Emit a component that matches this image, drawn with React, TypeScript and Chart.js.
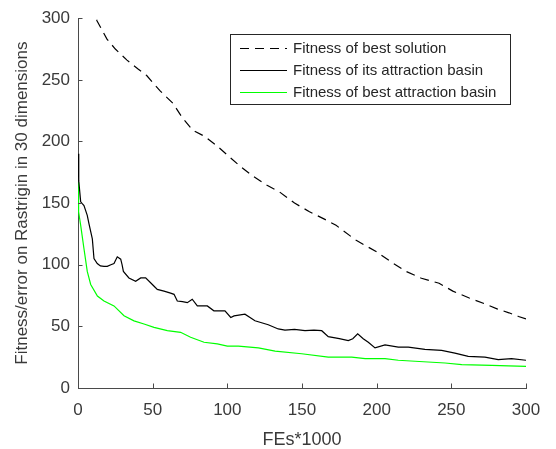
import React, { useEffect, useRef } from "react";
import { Chart, registerables } from "chart.js";

Chart.register(...registerables);

// ---- Data (FEs*1000 vs fitness) ----
const bestSolutionX = [0, 5, 10, 12.7, 19.4, 25, 32.8, 40, 46, 55, 63.6, 70, 77, 85, 93, 100, 108.5, 117, 126.6, 135, 145, 155, 165, 172.8, 186, 199.6, 210, 219.6, 230, 241.8, 251, 262, 273, 281, 288.6, 295, 300];
const bestSolutionY = [345, 325, 308, 298, 283, 275, 266, 259, 253.5, 241, 231, 219, 209, 204, 196.5, 189, 180, 172, 164.4, 159, 150, 143, 137, 132, 120, 110.7, 102, 94.6, 89, 85, 78.6, 73, 68, 64, 61, 58, 56];

const itsBasinX = [0, 0.5, 1.8, 4, 6.2, 7.4, 9.6, 10.7, 12.9, 15, 17.4, 19.6, 22, 24.1, 26.3, 28.6, 29.5, 30.4, 34.1, 38.6, 42, 45.3, 49.8, 53.1, 57.6, 62, 64.3, 66.5, 70, 73.2, 76.5, 79.9, 86.6, 91, 96.6, 98.4, 102.3, 104.5, 111.8, 118.5, 127.4, 134.1, 138.6, 145, 152, 158, 163.2, 167.6, 175, 181, 184, 187.3, 191, 194.4, 198.9, 205.6, 214.5, 221.2, 232.3, 243.5, 252.4, 261.3, 272.5, 281.4, 290.3, 300];
const itsBasinY = [190, 168, 151, 148, 140, 133, 121, 105, 101, 99, 98.7, 98.7, 100, 101, 106.4, 104.5, 100, 94.6, 89.3, 86.6, 89.3, 89.3, 84, 80, 78.6, 77, 76, 70.6, 70, 69.2, 72, 66.6, 66.6, 62.6, 62.6, 62.6, 57.2, 58.5, 59.9, 54.5, 51.3, 47.9, 47, 47.5, 46.5, 47, 46.5, 41.7, 40, 38.5, 40, 43.9, 40, 37.1, 32.5, 35, 33.1, 33.1, 31.3, 30.5, 28.3, 25.7, 25.1, 23, 23.8, 22.5];

const bestBasinX = [0, 0.4, 1.8, 4, 6.2, 8.5, 13, 17.4, 24.1, 30.8, 37.5, 44.2, 50.9, 59.8, 68.7, 75.4, 84.4, 93.3, 100, 107.4, 120.8, 132, 149.8, 167.6, 183.3, 192.3, 205.6, 214.5, 225.7, 245.8, 257, 277.1, 288.3, 300];
const bestBasinY = [167, 143, 132, 113, 94.6, 84, 74.6, 70.6, 66.6, 58.6, 54.5, 51.9, 49.2, 46.5, 45.2, 41.2, 37.1, 35.8, 34, 34, 32.6, 29.9, 27.8, 25.1, 25.1, 23.8, 23.8, 22.5, 21.7, 20.3, 19, 18.4, 17.9, 17.6];

const seriesLabels = [
  "Fitness of best solution",
  "Fitness of its attraction basin",
  "Fitness of best attraction basin",
];
const xTicks = [0, 50, 100, 150, 200, 250, 300];
const yTicks = [0, 50, 100, 150, 200, 250, 300];
const xTitle = "FEs*1000";
const yTitle = "Fitness/error on Rastrigin in 30 dimensions";

const FONT = "'Liberation Sans', Arial, Helvetica, sans-serif";
const AXIS_COLOR = "#4a4a4a";
const TEXT_COLOR = "#3a3a3a";

const toPoints = (xs: number[], ys: number[]) => xs.map((x, i) => ({ x, y: ys[i] }));

// Ticks drawn inward (MATLAB style)
const innerTicks = {
  id: "innerTicks",
  afterDatasetsDraw(chart: any) {
    const { ctx, chartArea, scales } = chart;
    const len = 4.5;
    ctx.save();
    ctx.strokeStyle = AXIS_COLOR;
    ctx.lineWidth = 1;
    ctx.beginPath();
    xTicks.forEach((v) => {
      const px = Math.round(scales.x.getPixelForValue(v)) + 0.5;
      ctx.moveTo(px, chartArea.bottom);
      ctx.lineTo(px, chartArea.bottom - len);
    });
    yTicks.forEach((v) => {
      const py = Math.round(scales.y.getPixelForValue(v)) + 0.5;
      ctx.moveTo(chartArea.left, py);
      ctx.lineTo(chartArea.left + len, py);
    });
    ctx.stroke();
    ctx.restore();
  },
};

// Boxed legend inside the plot, top-right
const boxLegend = {
  id: "boxLegend",
  afterDraw(chart: any) {
    const { ctx, chartArea } = chart;
    const w = 280;
    const h = 70;
    const left = Math.round(chartArea.right - 296);
    const top = Math.round(chartArea.top + 16);
    ctx.save();
    ctx.fillStyle = "#ffffff";
    ctx.fillRect(left, top, w, h);
    ctx.strokeStyle = "#262626";
    ctx.lineWidth = 1;
    ctx.strokeRect(left + 0.5, top + 0.5, w, h);
    ctx.font = `15px ${FONT}`;
    ctx.textBaseline = "middle";
    ctx.textAlign = "left";
    chart.data.datasets.forEach((ds: any, i: number) => {
      const y = top + 14 + i * 22 + 0.5;
      ctx.beginPath();
      ctx.strokeStyle = ds.borderColor;
      ctx.lineWidth = 1.2;
      ctx.setLineDash(ds.borderDash || []);
      ctx.moveTo(left + 10, y);
      ctx.lineTo(left + 57, y);
      ctx.stroke();
      ctx.setLineDash([]);
      ctx.fillStyle = "#262626";
      ctx.fillText(ds.label, left + 63, y);
    });
    ctx.restore();
  },
};

export default function App() {
  const canvasRef = useRef<HTMLCanvasElement | null>(null);

  useEffect(() => {
    document.body.style.margin = "0";
    const canvas = canvasRef.current;
    if (!canvas) return;
    const chart = new Chart(canvas, {
      type: "line",
      data: {
        datasets: [
          {
            label: seriesLabels[0],
            data: toPoints(bestSolutionX, bestSolutionY),
            borderColor: "#000000",
            borderWidth: 1.2,
            borderDash: [9, 6],
            pointRadius: 0,
            tension: 0,
            fill: false,
          },
          {
            label: seriesLabels[1],
            data: toPoints(itsBasinX, itsBasinY),
            borderColor: "#000000",
            borderWidth: 1.2,
            pointRadius: 0,
            tension: 0,
            fill: false,
          },
          {
            label: seriesLabels[2],
            data: toPoints(bestBasinX, bestBasinY),
            borderColor: "#00ff00",
            borderWidth: 1.2,
            pointRadius: 0,
            tension: 0,
            fill: false,
          },
        ],
      },
      options: {
        responsive: false,
        animation: false,
        layout: { padding: { top: 14, right: 30, bottom: 0, left: 0 } },
        plugins: {
          legend: { display: false },
          tooltip: { enabled: false },
        },
        scales: {
          x: {
            type: "linear",
            min: 0,
            max: 300,
            afterBuildTicks: (scale: any) => {
              scale.ticks = xTicks.map((v) => ({ value: v }));
            },
            afterFit: (scale: any) => {
              scale.height = 61;
            },
            grid: { display: false, drawTicks: false },
            border: { display: true, color: AXIS_COLOR, width: 1 },
            ticks: {
              color: TEXT_COLOR,
              font: { family: FONT, size: 17 },
              padding: 12,
              maxRotation: 0,
              autoSkip: false,
            },
            title: {
              display: true,
              text: xTitle,
              color: TEXT_COLOR,
              font: { family: FONT, size: 18, lineHeight: 1 },
              padding: { top: 0, bottom: 0 },
            },
          },
          y: {
            type: "linear",
            min: 0,
            max: 300,
            afterBuildTicks: (scale: any) => {
              scale.ticks = yTicks.map((v) => ({ value: v }));
            },
            afterFit: (scale: any) => {
              scale.width = 78;
            },
            grid: { display: false, drawTicks: false },
            border: { display: true, color: AXIS_COLOR, width: 1 },
            ticks: {
              color: TEXT_COLOR,
              font: { family: FONT, size: 17 },
              padding: 8,
              autoSkip: false,
            },
            title: {
              display: true,
              text: yTitle,
              color: TEXT_COLOR,
              font: { family: FONT, size: 17, lineHeight: 1.2 },
              padding: { top: 12, bottom: 0 },
            },
          },
        },
      },
      plugins: [innerTicks, boxLegend],
    } as any);
    return () => chart.destroy();
  }, []);

  return (
    <div style={{ position: "absolute", left: 0, top: 0, width: 556, height: 449, background: "#fff" }}>
      <canvas ref={canvasRef} width={556} height={449} />
    </div>
  );
}
